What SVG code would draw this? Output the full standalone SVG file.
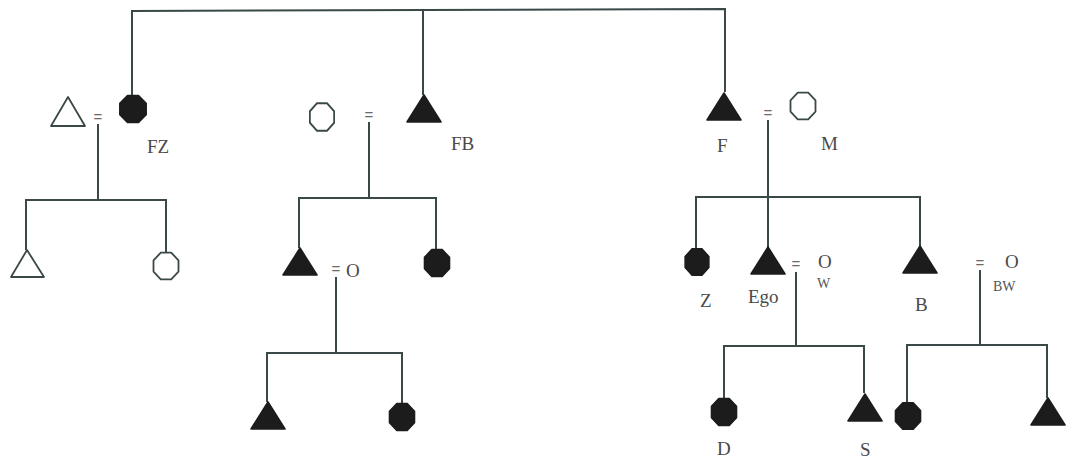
<svg xmlns="http://www.w3.org/2000/svg" xmlns:xlink="http://www.w3.org/1999/xlink" width="1066" height="459" viewBox="0 0 1066 459">
  <style>
    .ln { fill: none; stroke: #3b4848; stroke-width: 2; }
    .fill { fill: #1c1c1c; stroke: #1c1c1c; stroke-width: 1.6; stroke-linejoin: round; }
    .open { fill: #ffffff; stroke: #3b4848; stroke-width: 1.8; stroke-linejoin: round; }
    .lbl { font-family: "Liberation Serif", "DejaVu Serif", serif; font-size: 19px; fill: #4a4a4a; }
    .sm { font-family: "Liberation Serif", "DejaVu Serif", serif; font-size: 14px; fill: #555555; }
    .eq { font-family: "Liberation Sans", "DejaVu Sans", sans-serif; font-size: 15px; fill: #6a6a6a; text-anchor: middle; }
  </style>
  <defs>
    <!-- octagonal "circle" (female), radius 13.5, centred on origin -->
    <polygon id="oct" points="12.5,5.2 5.2,12.5 -5.2,12.5 -12.5,5.2 -12.5,-5.2 -5.2,-12.5 5.2,-12.5 12.5,-5.2"/>
    <!-- triangle (male), apex at origin -->
    <polygon id="tri" points="0,0 17,27 -17,27"/>
  </defs>
  <rect width="1066" height="459" fill="#ffffff"/>

  <g id="connectors">
    <!-- sibling bar of the senior generation -->
    <polyline class="ln" points="132,96 132,11 725,9 725,92"/>
    <line class="ln" x1="423" y1="10" x2="423" y2="95"/>
    <!-- FZ family -->
    <line class="ln" x1="98" y1="124" x2="98" y2="200"/>
    <polyline class="ln" points="26,250 26,200 166,200 166,252"/>
    <!-- FB family -->
    <line class="ln" x1="369" y1="122" x2="369" y2="198"/>
    <polyline class="ln" points="299,248 299,198 436,198 436,249"/>
    <line class="ln" x1="336" y1="277" x2="336" y2="353"/>
    <polyline class="ln" points="267,402 267,353 402,353 402,403"/>
    <!-- F = M family -->
    <line class="ln" x1="768" y1="120" x2="768" y2="247"/>
    <polyline class="ln" points="696,248 696,197 920,197 920,246"/>
    <!-- Ego = W family -->
    <line class="ln" x1="796" y1="272" x2="796" y2="346"/>
    <polyline class="ln" points="724,398 724,346 864,346 864,393"/>
    <!-- B = BW family -->
    <line class="ln" x1="980" y1="270" x2="980" y2="345"/>
    <polyline class="ln" points="907,402 907,345 1047,345 1047,398"/>
  </g>

  <!-- marriage signs -->
  <g id="marriages">
    <text class="eq" x="98" y="122">=</text>
    <text class="eq" x="369" y="120">=</text>
    <text class="eq" x="336" y="274">=</text>
    <text class="eq" x="768" y="118">=</text>
    <text class="eq" x="796" y="269">=</text>
    <text class="eq" x="980" y="268">=</text>
  </g>

  <!-- left: FZ and husband -->
  <g id="fz-husband"><polygon class="open" points="68,97 85,126 51,126"/></g>
  <g id="fz"><use href="#oct" xlink:href="#oct" class="fill" transform="translate(133,109) scale(1.05,1.08)"/><text class="lbl" x="147" y="153">FZ</text></g>
  <g id="fzs"><polygon class="open" points="27,250 44,277 11,277"/></g>
  <g id="fzd"><use href="#oct" xlink:href="#oct" class="open" transform="translate(166,266) scale(1,1.07)"/></g>

  <!-- middle: FB and wife -->
  <g id="fbw"><use href="#oct" xlink:href="#oct" class="open" transform="translate(322,117) scale(0.97,1.1)"/></g>
  <g id="fb"><use href="#tri" xlink:href="#tri" class="fill" transform="translate(424,95)"/><text class="lbl" x="451" y="150">FB</text></g>
  <g id="fbs"><use href="#tri" xlink:href="#tri" class="fill" transform="translate(300,248)"/><text class="lbl" x="346" y="277">O</text></g>
  <g id="fbd"><use href="#oct" xlink:href="#oct" class="fill" transform="translate(437,263) scale(1,1.07)"/></g>
  <g id="fbss"><use href="#tri" xlink:href="#tri" class="fill" transform="translate(268,402)"/></g>
  <g id="fbsd"><use href="#oct" xlink:href="#oct" class="fill" transform="translate(402,417) scale(1,1.07)"/></g>

  <!-- right: F and M -->
  <g id="f"><use href="#tri" xlink:href="#tri" class="fill" transform="translate(724,93)"/><text class="lbl" x="717" y="152">F</text></g>
  <g id="m"><use href="#oct" xlink:href="#oct" class="open" transform="translate(803,106) scale(1,1.07)"/><text class="lbl" x="821" y="150">M</text></g>
  <g id="z"><use href="#oct" xlink:href="#oct" class="fill" transform="translate(697,262) scale(0.95,1.05)"/><text class="lbl" x="700" y="307">Z</text></g>
  <g id="ego"><use href="#tri" xlink:href="#tri" class="fill" transform="translate(768,247)"/><text class="lbl" x="748" y="303">Ego</text></g>
  <g id="w"><text class="lbl" x="818" y="268">O</text><text class="sm" x="817" y="288">W</text></g>
  <g id="b"><use href="#tri" xlink:href="#tri" class="fill" transform="translate(920,246)"/><text class="lbl" x="915" y="311">B</text></g>
  <g id="bw"><text class="lbl" x="1005" y="268">O</text><text class="sm" x="993" y="291">BW</text></g>
  <g id="d"><use href="#oct" xlink:href="#oct" class="fill" transform="translate(724,412) scale(1,1.07)"/><text class="lbl" x="717" y="455">D</text></g>
  <g id="s"><use href="#tri" xlink:href="#tri" class="fill" transform="translate(865,394)"/><text class="lbl" x="860" y="456">S</text></g>
  <g id="bd"><use href="#oct" xlink:href="#oct" class="fill" transform="translate(908,416) scale(1,1.05)"/></g>
  <g id="bs"><use href="#tri" xlink:href="#tri" class="fill" transform="translate(1048,398)"/></g>
</svg>
